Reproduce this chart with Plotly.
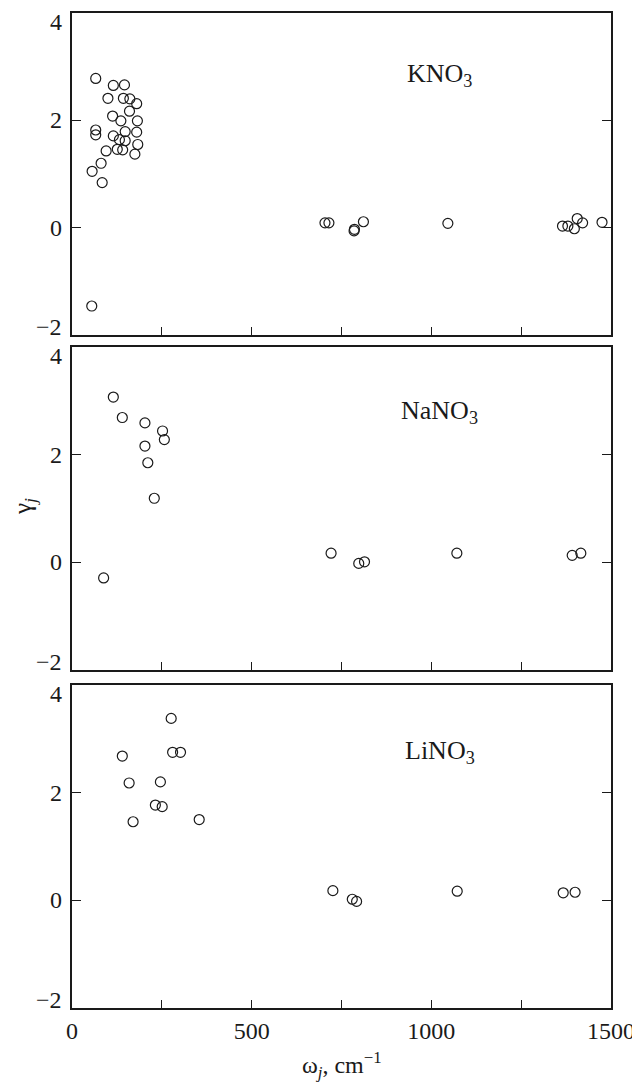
import plotly.graph_objects as go

# ---- data ----
kno3_w = [66, 115, 146, 100, 143, 161, 180, 160, 113, 136, 182, 66, 66, 115, 148, 180,
          132, 148, 183, 126, 141, 95, 175, 81, 56, 84, 55,
          704, 715, 785, 786, 811, 1046, 1365, 1380, 1398, 1406, 1421, 1475]
kno3_g = [2.78, 2.65, 2.66, 2.41, 2.41, 2.40, 2.31, 2.17, 2.08, 1.99, 1.99, 1.82, 1.73, 1.71, 1.79, 1.78,
          1.64, 1.62, 1.55, 1.46, 1.45, 1.43, 1.37, 1.20, 1.05, 0.84, -1.46,
          0.09, 0.09, -0.06, -0.03, 0.11, 0.08, 0.03, 0.03, -0.02, 0.17, 0.09, 0.10]

nano3_w = [115, 140, 203, 252, 257, 203, 211, 229, 88, 721, 798, 814, 1071, 1392, 1416]
nano3_g = [3.07, 2.69, 2.59, 2.44, 2.28, 2.16, 1.85, 1.19, -0.29, 0.17, -0.02, 0.01, 0.17, 0.13, 0.17]

lino3_w = [140, 159, 170, 232, 246, 251, 276, 280, 302, 354, 726, 780, 792, 1072, 1367, 1400]
lino3_g = [2.68, 2.18, 1.46, 1.77, 2.20, 1.74, 3.38, 2.75, 2.75, 1.50, 0.18, 0.02, -0.02, 0.17, 0.14, 0.15]

panel_labels = ["KNO<sub>3</sub>", "NaNO<sub>3</sub>", "LiNO<sub>3</sub>"]
label_pos = [(1024, 2.85), (1024, 2.8), (1024, 2.75)]

x_major = [0, 500, 1000, 1500]
x_minor = [250, 750, 1250]
y_ticks = [-2, 0, 2, 4]
y_labels = ["\u22122", "0", "2", "4"]
y_label_shift = [8, 0, 0, -9]   # end labels nudged inward, as in the reference

# ---- layout geometry (pixels, figure coords; page body adds an 8px offset) ----
W, H = 632, 1074
L, R = 64, 603
T, B = 5, 1000
PH = B - T
panels_px = [(5, 327), (339, 662), (677, 1000)]
FONT = "Liberation Serif"
INK = "#1a1a1a"
FS = 24

fig = go.Figure()
series = [(kno3_w, kno3_g), (nano3_w, nano3_g), (lino3_w, lino3_g)]
annotations = []
for i, ((w, g), (p1, p2)) in enumerate(zip(series, panels_px)):
    n = "" if i == 0 else str(i + 1)
    fig.add_trace(go.Scatter(
        x=w, y=g, mode="markers", xaxis="x" + n, yaxis="y" + n,
        marker=dict(size=10, color="rgba(0,0,0,0)", line=dict(color=INK, width=1.2)),
        showlegend=False, hoverinfo="x+y"))
    dom = [(B - p2) / PH, (B - p1) / PH]
    fig.layout["xaxis" + n] = dict(
        domain=[0, 1], range=[0, 1500], anchor="y" + n,
        tickmode="array", tickvals=x_major, showticklabels=(i == 2),
        ticks="inside", ticklen=8, tickwidth=1.3, tickcolor=INK,
        minor=dict(tickmode="array", tickvals=x_minor, ticks="inside", ticklen=8,
                   tickwidth=1.3, tickcolor=INK, showgrid=False),
        showline=True, linecolor=INK, linewidth=2, mirror=True,
        showgrid=False, zeroline=False, automargin=False,
        tickfont=dict(family=FONT, size=FS, color=INK),
    )
    fig.layout["yaxis" + n] = dict(
        domain=dom, range=[-2, 4], anchor="x" + n,
        tickmode="array", tickvals=y_ticks, showticklabels=False,
        ticks="inside", ticklen=9, tickwidth=1.3, tickcolor=INK,
        showline=True, linecolor=INK, linewidth=2, mirror="ticks",
        showgrid=False, zeroline=False, automargin=False,
    )
    for yv, yt, ys in zip(y_ticks, y_labels, y_label_shift):
        annotations.append(dict(text=yt, x=0, xref="x" + n + " domain", y=yv, yref="y" + n,
                                xanchor="right", yanchor="middle", xshift=-8, yshift=ys,
                                showarrow=False, font=dict(family=FONT, size=FS, color=INK)))
    lx, ly = label_pos[i]
    annotations.append(dict(text=panel_labels[i], x=lx, y=ly, xref="x" + n, yref="y" + n,
                            showarrow=False, xanchor="center", yanchor="middle",
                            font=dict(family=FONT, size=26, color=INK)))

annotations.append(dict(text="\u03b3<sub><i>j</i></sub>", x=(16 - L) / (R - L), xref="paper",
                        y=(B - 499) / PH, yref="paper",
                        textangle=-90, showarrow=False, xanchor="center", yanchor="middle",
                        font=dict(family=FONT, size=25, color=INK)))

annotations.append(dict(text="\u03c9<sub><i>j</i></sub>, cm<sup>\u22121</sup>", x=0.5, xref="paper",
                        y=(B - 1057) / PH, yref="paper", showarrow=False,
                        xanchor="center", yanchor="middle",
                        font=dict(family=FONT, size=FS, color=INK)))

fig.update_layout(
    template="none",
    width=W, height=H,
    margin=dict(l=L, r=W - R, t=T, b=H - B, autoexpand=False),
    paper_bgcolor="white", plot_bgcolor="white",
    annotations=annotations,
    font=dict(family=FONT, color=INK),
)

fig.write_html("out.html")
